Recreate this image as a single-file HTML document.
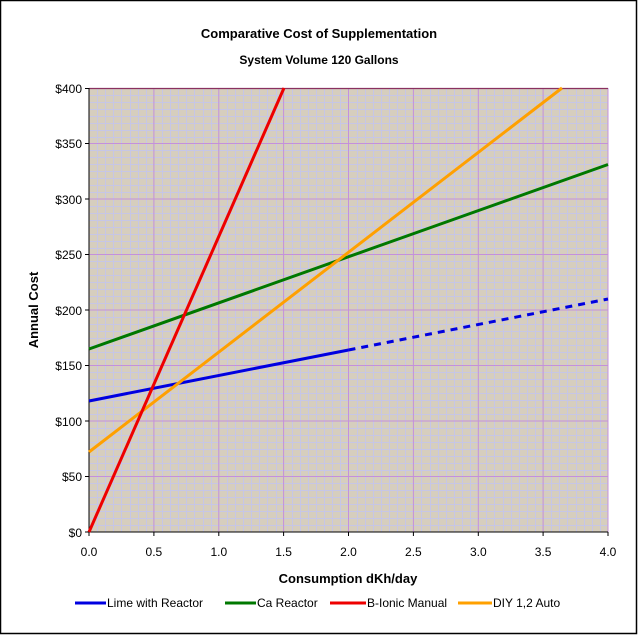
<!DOCTYPE html>
<html><head><style>body{margin:0;background:#fff}svg{display:block}</style></head><body>
<svg id="s" width="638" height="635" xmlns="http://www.w3.org/2000/svg" font-family="Liberation Sans, Arial, sans-serif">
<rect x="0.5" y="0.5" width="636" height="633" fill="#fff" stroke="#000" stroke-width="1.5"/>
<text x="319" y="38" text-anchor="middle" font-size="13" font-weight="bold">Comparative Cost of Supplementation</text>
<text x="319" y="64" text-anchor="middle" font-size="12" font-weight="bold">System Volume 120 Gallons</text>
<rect x="89" y="88" width="519" height="444" fill="#d6cebe"/>
<path id="minor" d="" stroke="#c6c6e6" stroke-width="1" fill="none"/>
<g stroke="#c490dc" stroke-width="1" fill="none">
<path d="M153.9 88V532M218.8 88V532M283.6 88V532M348.5 88V532M413.4 88V532M478.3 88V532M543.1 88V532M608 88V532"/>
<path d="M89 143.5H608M89 199H608M89 254.5H608M89 310H608M89 365.5H608M89 421H608M89 476.5H608"/>
</g>
<path d="M89 88.5H608" stroke="#8a3060" stroke-width="1.2"/>
<g stroke="#000" stroke-width="1" fill="none">
<path d="M89 88V532H608"/>
<path d="M85 88.5H89M85 143.5H89M85 199H89M85 254.5H89M85 310H89M85 365.5H89M85 421H89M85 476.5H89M85 532H89"/>
<path d="M89 532V536M153.9 532V536M218.8 532V536M283.6 532V536M348.5 532V536M413.4 532V536M478.3 532V536M543.1 532V536M608 532V536"/>
</g>
<g font-size="12" text-anchor="end">
<text x="82" y="93">$400</text><text x="82" y="148">$350</text><text x="82" y="204">$300</text><text x="82" y="259">$250</text><text x="82" y="315">$200</text><text x="82" y="370">$150</text><text x="82" y="426">$100</text><text x="82" y="481">$50</text><text x="82" y="537">$0</text>
</g>
<g font-size="12" text-anchor="middle">
<text x="89" y="556">0.0</text><text x="153.9" y="556">0.5</text><text x="218.8" y="556">1.0</text><text x="283.6" y="556">1.5</text><text x="348.5" y="556">2.0</text><text x="413.4" y="556">2.5</text><text x="478.3" y="556">3.0</text><text x="543.1" y="556">3.5</text><text x="608" y="556">4.0</text>
</g>
<text x="348" y="583" text-anchor="middle" font-size="13" font-weight="bold">Consumption dKh/day</text>
<text transform="translate(38 310) rotate(-90)" text-anchor="middle" font-size="13" font-weight="bold">Annual Cost</text>
<g fill="none" stroke-width="3">
<path d="M89 401L348.5 350" stroke="#0000e0"/>
<path d="M348.5 350L608 299" stroke="#0000e0" stroke-dasharray="7,6"/>
<path d="M89 349L608 164.5" stroke="#007800"/>
<path d="M89 452L562 88" stroke="#ffa000"/>
<path d="M89 532L284 88" stroke="#ee0000"/>
</g>
<g font-size="12">
<path d="M75 603H106" stroke="#0000e0" stroke-width="3"/><text x="107" y="607">Lime with Reactor</text>
<path d="M225 603H256" stroke="#007800" stroke-width="3"/><text x="257" y="607">Ca Reactor</text>
<path d="M330 603H366" stroke="#ee0000" stroke-width="3"/><text x="367" y="607">B-Ionic Manual</text>
<path d="M458 603H492" stroke="#ffa000" stroke-width="3"/><text x="493" y="607">DIY 1,2 Auto</text>
</g>
</svg>
<script>
var d="";
for(var i=1;i<64;i++){if(i%8){var x=Math.round(89+i*519/64)+0.5;d+="M"+x+" 88V532";}}
for(var j=1;j<64;j++){if(j%8){var y=Math.round(88+j*444/64)+0.5;d+="M89 "+y+"H608";}}
document.getElementById("minor").setAttribute("d",d);
</script>
</body></html>
